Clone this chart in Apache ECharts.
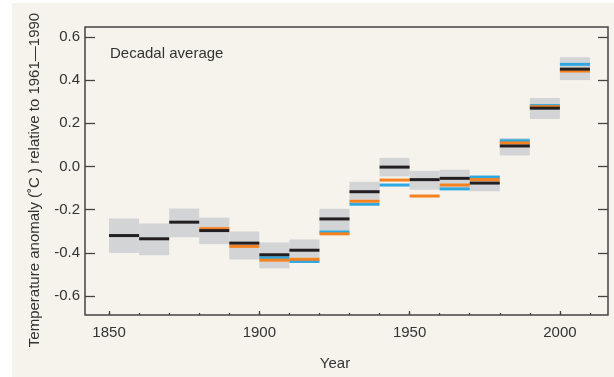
<!DOCTYPE html>
<html>
<head>
<meta charset="utf-8">
<style>html,body{margin:0;padding:0;background:#fff;}#c{width:614px;height:377px;}</style>
<script src="https://cdn.jsdelivr.net/npm/echarts@6.0.0/dist/echarts.min.js"></script>
</head>
<body>
<div id="c"></div>
<script>
// Decade start years
var decades = [1850,1860,1870,1880,1890,1900,1910,1920,1930,1940,1950,1960,1970,1980,1990,2000];
// Uncertainty range (grey boxes)
var boxHigh = [-0.241,-0.264,-0.195,-0.237,-0.301,-0.352,-0.338,-0.196,-0.071,0.040,-0.020,-0.015,-0.046,0.132,0.317,0.506];
var boxLow  = [-0.401,-0.411,-0.328,-0.360,-0.431,-0.472,-0.446,-0.295,-0.154,-0.046,-0.108,-0.108,-0.115,0.051,0.220,0.400];
// Decadal averages of three records
var blackVals  = [-0.320,-0.335,-0.258,-0.297,-0.355,-0.409,-0.388,-0.243,-0.117,-0.003,-0.061,-0.055,-0.077,0.095,0.270,0.451];
var orangeVals = [null,null,null,-0.288,-0.370,-0.434,-0.430,-0.312,-0.161,-0.063,-0.137,-0.086,-0.061,0.109,0.277,0.442];
var blueVals   = [null,null,null,null,null,-0.423,-0.440,-0.303,-0.175,-0.086,null,-0.104,-0.049,0.119,0.282,0.473];
// Tick labels
var yTicks = [-0.6,-0.4,-0.2,0.0,0.2,0.4,0.6];
var xMajor = [1850,1900,1950,2000];
var xMinor = [1850,1860,1870,1880,1890,1900,1910,1920,1930,1940,1950,1960,1970,1980,1990,2000,2010];

var chart = echarts.init(document.getElementById('c'));
var FONT = '"Liberation Sans", Arial, sans-serif';
var TXT = '#333333';

function boxItem(params, api) {
  var p0 = api.coord([api.value(0), api.value(1)]);
  var p1 = api.coord([api.value(0) + 10, api.value(2)]);
  return {type:'rect', shape:{x:p0[0], y:p1[1], width:p1[0]-p0[0], height:p0[1]-p1[1]}, style:{fill:'#d3d4d6'}};
}
function lineItemFactory(color) {
  return function(params, api) {
    var p0 = api.coord([api.value(0), api.value(1)]);
    var p1 = api.coord([api.value(0) + 10, api.value(1)]);
    return {type:'rect', shape:{x:p0[0], y:p0[1]-1.5, width:p1[0]-p0[0], height:3}, style:{fill:color}};
  };
}
function lineData(vals) {
  var out = [];
  decades.forEach(function(d, i){ if (vals[i] !== null) out.push([d, vals[i]]); });
  return out;
}

chart.setOption({
  animation: false,
  backgroundColor: '#f6f3ec',
  textStyle: {fontFamily: FONT},
  grid: {left: 85, right: 6, top: 27, bottom: 62, show: true, borderColor: '#444', borderWidth: 1.5, backgroundColor: '#f6f3ec'},
  xAxis: [{
    type: 'value', min: 1842, max: 2016, position: 'bottom',
    axisLine: {show: false, onZero: false},
    splitLine: {show: false},
    axisTick: {show: true, inside: true, length: 4, customValues: xMajor, lineStyle: {color: '#444', width: 1.3}},
    axisLabel: {customValues: xMajor, margin: 10, fontSize: 15, color: TXT, fontFamily: FONT, formatter: function(v){return String(v);}}
  }, {
    type: 'value', min: 1842, max: 2016, position: 'top', offset: -288,
    axisLine: {show: false, onZero: false},
    splitLine: {show: false},
    axisTick: {show: true, inside: false, length: 2, customValues: xMinor, lineStyle: {color: '#444', width: 1.3}},
    axisLabel: {show: false}
  }],
  yAxis: [{
    type: 'value', min: -0.688, max: 0.646, position: 'left',
    axisLine: {show: false, onZero: false},
    splitLine: {show: false},
    axisTick: {show: true, inside: true, length: 10, customValues: yTicks, lineStyle: {color: '#444', width: 1.3}},
    axisLabel: {customValues: yTicks, margin: 5, fontSize: 15, color: TXT, fontFamily: FONT, formatter: function(v){return v.toFixed(1);}}
  }, {
    type: 'value', min: -0.688, max: 0.646, position: 'right',
    axisLine: {show: false, onZero: false},
    splitLine: {show: false},
    axisTick: {show: true, inside: true, length: 10, customValues: yTicks, lineStyle: {color: '#444', width: 1.3}},
    axisLabel: {show: false}
  }],
  graphic: [
    {type: 'rect', left: 0, top: 0, shape: {width: 12, height: 377}, style: {fill: '#ffffff'}, silent: true},
    {type: 'rect', left: 0, top: 0, shape: {width: 614, height: 3}, style: {fill: '#ffffff'}, silent: true},
    {type: 'text', x: 110, y: 54, style: {text: 'Decadal average', font: '15px ' + FONT, fill: TXT, textAlign: 'left', textVerticalAlign: 'middle'}},
    {type: 'text', x: 335, y: 364, style: {text: 'Year', font: '15px ' + FONT, fill: TXT, textAlign: 'center', textVerticalAlign: 'middle'}},
    {type: 'text', x: 35, y: 180, rotation: Math.PI / 2, style: {text: 'Temperature anomaly (\u02daC ) relative to 1961\u20141990', font: '15px ' + FONT, fill: TXT, textAlign: 'center', textVerticalAlign: 'middle'}}
  ],
  series: [
    {type: 'custom', name: 'range', renderItem: boxItem, data: decades.map(function(d,i){return [d, boxLow[i], boxHigh[i]];}), encode: {x: 0, y: [1,2]}, z: 1},
    {type: 'custom', name: 'blue', renderItem: lineItemFactory('#2ea8e0'), data: lineData(blueVals), encode: {x: 0, y: 1}, z: 2},
    {type: 'custom', name: 'orange', renderItem: lineItemFactory('#f5821f'), data: lineData(orangeVals), encode: {x: 0, y: 1}, z: 3},
    {type: 'custom', name: 'black', renderItem: lineItemFactory('#231f20'), data: lineData(blackVals), encode: {x: 0, y: 1}, z: 4}
  ]
});
</script>
</body>
</html>
